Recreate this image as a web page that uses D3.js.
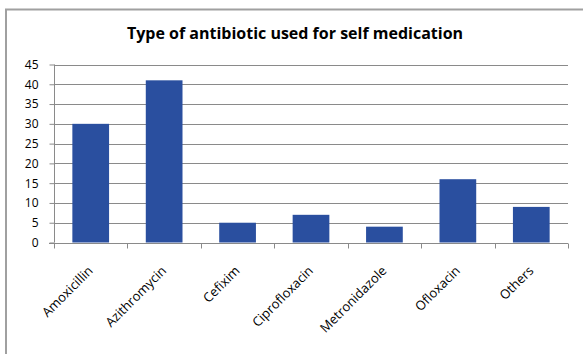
<!DOCTYPE html>
<html>
<head>
<meta charset="utf-8">
<script src="https://cdn.jsdelivr.net/npm/d3@7"></script>
<style>
  html, body { margin: 0; padding: 0; background: #fff; }
  svg { display: block; }
  text { font-family: "Open Sans", Lato, sans-serif; fill: #000; }
</style>
</head>
<body>
<svg id="chart" width="583" height="354"></svg>
<script>
// Antibiotics used for self medication (number of respondents)
const categories = ["Amoxicillin", "Azithromycin", "Cefixim", "Ciprofloxacin", "Metronidazole", "Ofloxacin", "Others"];
const counts = [30, 41, 5, 7, 4, 16, 9];
const yTicks = [0, 5, 10, 15, 20, 25, 30, 35, 40, 45];
const title = "Type of antibiotic used for self medication";

const svg = d3.select("#chart");
const margin = { left: 54, right: 15, top: 64.5, bottom: 111.5 };
const W = 583, H = 354;

// chart frame
svg.append("rect")
  .attr("x", 6).attr("y", 9.5)
  .attr("width", 590).attr("height", 360)
  .attr("fill", "#fff")
  .attr("stroke", "#a0a0a0").attr("stroke-width", 2);

svg.append("text")
  .attr("x", 295).attr("y", 39)
  .attr("text-anchor", "middle")
  .attr("font-weight", "bold")
  .attr("font-size", 16)
  .text(title);

const x = d3.scaleBand()
  .domain(categories)
  .range([margin.left, W - margin.right])
  .paddingInner(0.5).paddingOuter(0.25);

const y = d3.scaleLinear()
  .domain([0, 45])
  .range([H - margin.bottom, margin.top]);

// horizontal gridlines
svg.append("g")
  .selectAll("line")
  .data(yTicks.filter(d => d > 0))
  .join("line")
  .attr("x1", margin.left).attr("x2", W - margin.right)
  .attr("y1", d => Math.round(y(d)) + 0.5).attr("y2", d => Math.round(y(d)) + 0.5)
  .attr("stroke", "#8a8a8a").attr("stroke-width", 1);

// bars
svg.append("g")
  .selectAll("rect")
  .data(categories.map((c, i) => ({ c, v: counts[i] })))
  .join("rect")
  .attr("x", d => x(d.c))
  .attr("width", x.bandwidth())
  .attr("y", d => y(d.v))
  .attr("height", d => y(0) - y(d.v))
  .attr("fill", "#2A4F9F");

// y axis
const yAxis = svg.append("g")
  .attr("transform", `translate(${margin.left + 0.5},0)`)
  .call(d3.axisLeft(y).tickValues(yTicks).tickSize(5).tickPadding(11));
yAxis.select(".domain").attr("stroke", "#8a8a8a").attr("d", `M0,${y(45)}V${y(0)}`);
yAxis.selectAll(".tick line").attr("stroke", "#8a8a8a");
yAxis.selectAll("text").attr("font-size", 12).attr("font-family", "'Open Sans', sans-serif");

// x axis with ticks at category boundaries
const xAxisG = svg.append("g")
  .attr("transform", `translate(0,${Math.round(y(0)) + 0.5})`);
xAxisG.append("line")
  .attr("x1", margin.left - 5).attr("x2", W - margin.right)
  .attr("stroke", "#8a8a8a");
const bounds = d3.range(categories.length + 1).map(i => margin.left + i * (W - margin.left - margin.right) / categories.length);
xAxisG.selectAll("line.tick")
  .data(bounds)
  .join("line")
  .attr("class", "tick")
  .attr("x1", d => Math.round(d) + 0.5).attr("x2", d => Math.round(d) + 0.5)
  .attr("y1", 0).attr("y2", 5)
  .attr("stroke", "#8a8a8a");

xAxisG.selectAll("text")
  .data(categories)
  .join("text")
  .attr("transform", d => `translate(${x(d) + x.bandwidth() / 2 + 3},${28}) rotate(-45)`)
  .attr("text-anchor", "end")
  .attr("font-size", 13)
  .text(d => d);
</script>
</body>
</html>
